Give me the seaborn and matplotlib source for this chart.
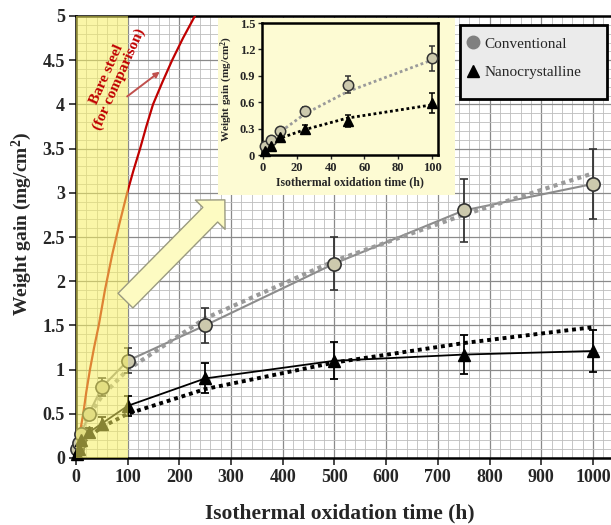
import matplotlib
matplotlib.use("Agg")
import seaborn as sns
from matplotlib import pyplot as plt
from matplotlib.patches import Rectangle
from matplotlib.lines import Line2D
from matplotlib.ticker import MultipleLocator, FuncFormatter

# oxidation times (h) and measured weight gain (mg/cm2)
hours = [1, 5, 10, 25, 50, 100, 250, 500, 750, 1000]
conv_gain = [0.10, 0.17, 0.27, 0.50, 0.80, 1.10, 1.50, 2.20, 2.80, 3.10]
conv_err = [0.02, 0.03, 0.03, 0.05, 0.10, 0.14, 0.20, 0.30, 0.36, 0.40]
nano_gain = [0.04, 0.10, 0.20, 0.29, 0.39, 0.59, 0.90, 1.10, 1.17, 1.21]
nano_err = [0.01, 0.02, 0.03, 0.05, 0.07, 0.11, 0.17, 0.21, 0.22, 0.24]

# dotted trend lines (main plot)
trend_hours = [1, 10, 25, 50, 100, 250, 500, 750, 1000]
conv_trend = [0.05, 0.32, 0.48, 0.70, 1.00, 1.58, 2.23, 2.75, 3.22]
nano_trend = [0.03, 0.15, 0.24, 0.35, 0.50, 0.78, 1.08, 1.30, 1.48]

# dotted trend lines (inset, first 100 h)
inset_hours = [1, 5, 10, 25, 50, 100]
conv_trend_in = [0.10, 0.18, 0.26, 0.47, 0.72, 1.08]
nano_trend_in = [0.05, 0.13, 0.19, 0.29, 0.42, 0.57]

# bare steel reference curve
bare_hours = [0, 3, 8, 14, 20, 27, 35, 44, 56, 70, 84, 99, 111, 124, 136,
              149, 167, 186, 207, 230]
bare_gain = [0, 0.12, 0.30, 0.50, 0.75, 1.00, 1.25, 1.50, 1.90, 2.30, 2.65,
             3.00, 3.25, 3.50, 3.75, 4.00, 4.25, 4.50, 4.75, 5.00]

sns.set_theme(style="white")
plt.rcParams["font.family"] = ["Liberation Serif", "DejaVu Serif"]
plt.rcParams["mathtext.fontset"] = "custom"
plt.rcParams["mathtext.rm"] = "Liberation Serif:bold"
plt.rcParams["mathtext.it"] = "Liberation Serif:bold"

C_FILL = "#ccc9ad"
C_EDGE = "#333333"

fig = plt.figure(figsize=(6.11, 5.25), dpi=100)
ax = fig.add_axes([76 / 611, 67 / 525, 1 - 76 / 611, (458 - 16) / 525])

ax.set_xlim(0, 1035)
ax.set_ylim(0, 5)
ax.xaxis.set_major_locator(MultipleLocator(100))
ax.xaxis.set_minor_locator(MultipleLocator(20))
ax.yaxis.set_major_locator(MultipleLocator(0.5))
ax.yaxis.set_minor_locator(MultipleLocator(0.1))
ax.yaxis.set_major_formatter(FuncFormatter(lambda v, p: f"{v:g}"))
ax.grid(which="major", color="#8a8a8a", lw=0.9)
ax.grid(which="minor", color="#bdbdbd", lw=0.6)
ax.set_axisbelow(True)
ax.tick_params(which="major", direction="out", length=5, width=1.2,
               labelsize=13, pad=3, left=True, bottom=True)
ax.tick_params(which="minor", length=0)
for lab in ax.get_xticklabels() + ax.get_yticklabels():
    lab.set_fontweight("bold")
for s in ["left", "bottom", "top"]:
    ax.spines[s].set_linewidth(1.8)
    ax.spines[s].set_color("black")
ax.spines["right"].set_visible(False)

# solid connecting lines
sns.lineplot(x=hours, y=conv_gain, ax=ax, color="#8c8c8c", lw=1.5, zorder=3)
sns.lineplot(x=hours, y=nano_gain, ax=ax, color="black", lw=1.3, zorder=3)
# dotted trends
sns.lineplot(x=trend_hours, y=conv_trend, ax=ax, color="#9a9a9a", lw=3,
             linestyle=(0, (1, 1)), zorder=3)
sns.lineplot(x=trend_hours, y=nano_trend, ax=ax, color="black", lw=2.8,
             linestyle=(0, (1, 1)), zorder=3)
# bare steel
sns.lineplot(x=bare_hours, y=bare_gain, ax=ax, color="#c00000", lw=1.6, zorder=3)

ax.errorbar(hours, conv_gain, yerr=conv_err, fmt="o", ms=9.5, mfc=C_FILL,
            mec=C_EDGE, mew=1.2, ecolor=C_EDGE, elinewidth=1.3, capsize=3,
            capthick=1.3, zorder=4, clip_on=False)
ax.errorbar(hours, nano_gain, yerr=nano_err, fmt="^", ms=9, mfc="black",
            mec="black", ecolor="black", elinewidth=1.3, capsize=3,
            capthick=1.3, zorder=4, clip_on=False)

# yellow highlight over the first 100 h
ax.axvspan(0, 100, color="#f7f060", alpha=0.55, lw=0, zorder=5)

ax.set_xlabel("Isothermal oxidation time (h)", fontsize=15.5, fontweight="bold")
ax.xaxis.set_label_coords(0.493, -0.103)
ax.set_ylabel("Weight gain (mg/cm$^2$)", fontsize=14, fontweight="bold")
ax.yaxis.set_label_coords(-0.078, 0.53)

ax.text(72, 4.31, "Bare steel\n(for comparison)", color="#c00000",
        fontsize=11, fontweight="bold", rotation=66, ha="center",
        va="center", linespacing=1.0, zorder=6)
ax.annotate("", xy=(162, 4.37), xytext=(99, 4.09),
            arrowprops=dict(arrowstyle="-|>", color="#c0504d", lw=1.4,
                            mutation_scale=8, shrinkA=0, shrinkB=0), zorder=6)

# big arrow pointing to the inset
ax.annotate("", xy=(288, 2.92), xytext=(95.7, 1.78),
            arrowprops=dict(arrowstyle="simple,head_length=1.5,head_width=3.0,tail_width=1.5",
                            mutation_scale=10, fc="#fdfbc2", ec="#9a9a80",
                            lw=1.0, shrinkA=0, shrinkB=0), zorder=6)

# inset background box
fig.add_artist(Rectangle((218 / 611, 1 - 195 / 525), 237 / 611, 177 / 525,
                         transform=fig.transFigure, facecolor="#fdfbd3",
                         edgecolor="none", zorder=1))

axin = fig.add_axes([262 / 611, 1 - 155 / 525, 176 / 611, 132 / 525], zorder=2)
axin.set_facecolor("#fdfbd3")
axin.set_xlim(-0.6, 103.5)
axin.set_ylim(0, 1.5)
axin.xaxis.set_major_locator(MultipleLocator(20))
axin.yaxis.set_major_locator(MultipleLocator(0.3))
axin.yaxis.set_major_formatter(FuncFormatter(lambda v, p: f"{v:g}"))
axin.tick_params(direction="out", length=3, width=1, labelsize=9, pad=2,
                 left=True, bottom=True)
for lab in axin.get_xticklabels() + axin.get_yticklabels():
    lab.set_fontweight("bold")
for s in axin.spines.values():
    s.set_linewidth(1.8)
    s.set_color("black")

sns.lineplot(x=inset_hours, y=conv_trend_in, ax=axin, color="#9a9a9a", lw=2,
             linestyle=(0, (1, 1)), zorder=3)
sns.lineplot(x=inset_hours, y=nano_trend_in, ax=axin, color="black", lw=2,
             linestyle=(0, (1, 1)), zorder=3)
axin.errorbar(hours[:6], conv_gain[:6], yerr=conv_err[:6], fmt="o", ms=7.5,
              mfc=C_FILL, mec=C_EDGE, mew=1.1, ecolor=C_EDGE, elinewidth=1.1,
              capsize=2.5, capthick=1.1, zorder=4, clip_on=False)
axin.errorbar(hours[:6], nano_gain[:6], yerr=nano_err[:6], fmt="^", ms=7.5,
              mfc="black", mec="black", ecolor="black", elinewidth=1.1,
              capsize=2.5, capthick=1.1, zorder=4, clip_on=False)
axin.set_xlabel("Isothermal oxidation time (h)", fontsize=8.5, fontweight="bold",
                labelpad=2)
axin.set_ylabel("Weight gain (mg/cm$^2$)", fontsize=8, fontweight="bold",
                labelpad=3)

# legend box drawn separately so its size matches the original
fig.add_artist(Rectangle((460 / 611, 1 - 99 / 525), 147 / 611, 74 / 525,
                         transform=fig.transFigure, facecolor="#ebebeb",
                         edgecolor="black", lw=2, zorder=4))
handles = [
    Line2D([], [], marker="o", ls="none", ms=9, mfc="#808080", mec="#808080"),
    Line2D([], [], marker="^", ls="none", ms=9, mfc="black", mec="black"),
]
leg = fig.legend(handles, ["Conventional", "Nanocrystalline"],
                 loc="upper left", bbox_to_anchor=(467 / 611, 1 - 37 / 525),
                 fontsize=11, frameon=False, borderpad=0,
                 handletextpad=0.35, handlelength=0.8, labelspacing=0.95,
                 borderaxespad=0)
leg.set_zorder(5)

fig.savefig("out.png", dpi=100)
